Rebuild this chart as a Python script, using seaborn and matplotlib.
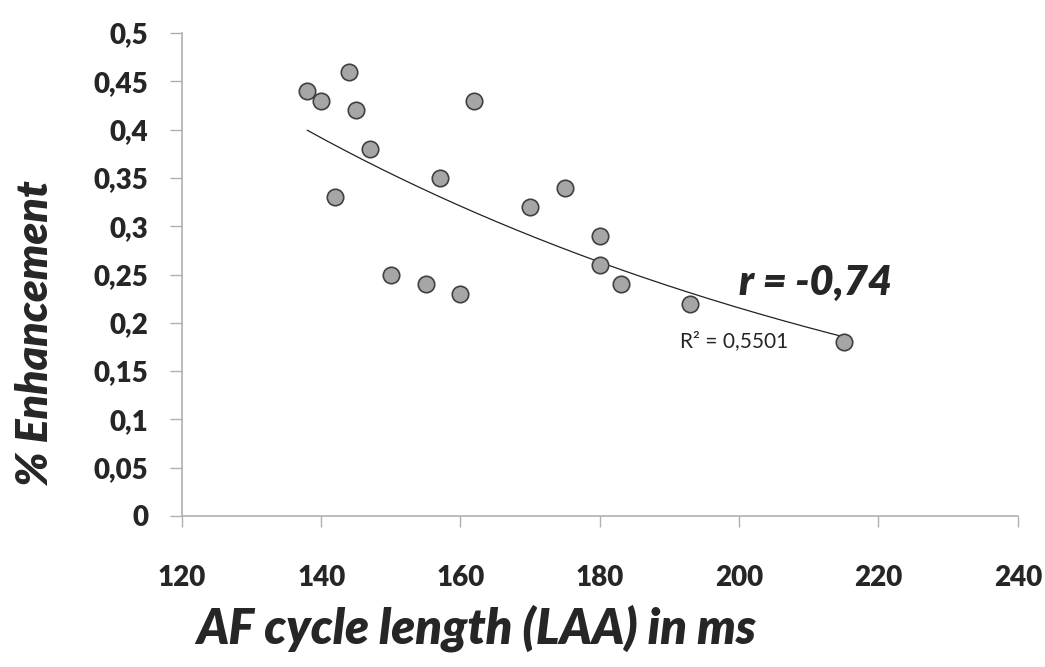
import numpy as np
import pandas as pd
import seaborn as sns
from matplotlib import pyplot as plt
from matplotlib.ticker import FuncFormatter

# values
cycle_length = [138, 140, 144, 145, 147, 142, 162, 157, 170, 150, 155, 160,
                175, 180, 180, 183, 193, 215]
enhancement = [0.44, 0.43, 0.46, 0.42, 0.38, 0.33, 0.43, 0.35, 0.32, 0.25, 0.24, 0.23,
               0.34, 0.29, 0.26, 0.24, 0.22, 0.18]
x_ticks = [120, 140, 160, 180, 200, 220, 240]
y_ticks = [0, 0.05, 0.1, 0.15, 0.2, 0.25, 0.3, 0.35, 0.4, 0.45, 0.5]

df = pd.DataFrame({'x': cycle_length, 'y': enhancement})

sns.set_theme(style='white')
plt.rcParams['font.family'] = ['Lato', 'DejaVu Sans']

fig = plt.figure(figsize=(10.45, 6.67), dpi=100)
ax = fig.add_axes([0.174, 0.2264, 0.8, 0.724])

# exponential trendline (Excel style)
b, log_a = np.polyfit(df['x'], np.log(df['y']), 1)
xs = np.linspace(df['x'].min(), df['x'].max(), 200)
ax.plot(xs, np.exp(log_a) * np.exp(b * xs), color='#222222', lw=0.9, zorder=2)

sns.scatterplot(data=df, x='x', y='y', ax=ax, s=140, color='#a6a6a6',
                edgecolor='#404040', linewidth=1.2, zorder=3)

ax.set_xlim(120, 240)
ax.set_ylim(0, 0.5)
ax.set_xticks(x_ticks)
ax.set_yticks(y_ticks)
fmt = FuncFormatter(lambda v, p: ('%g' % v).replace('.', ','))
ax.xaxis.set_major_formatter(fmt)
ax.yaxis.set_major_formatter(fmt)

for s in ['top', 'right']:
    ax.spines[s].set_visible(False)
for s in ['left', 'bottom']:
    ax.spines[s].set_color('#b0b0b0')
    ax.spines[s].set_linewidth(1.2)

ax.tick_params(axis='y', direction='out', length=9, width=1, color='#b0b0b0',
               left=True, pad=15, labelsize=20)
ax.tick_params(axis='x', direction='out', length=8, width=1, color='#b0b0b0',
               bottom=True, pad=27, labelsize=20)
for lab in ax.get_xticklabels() + ax.get_yticklabels():
    lab.set_fontweight('heavy')

ax.set_xlabel('')
ax.set_ylabel('')
fig.text(0.4555, 0.0585, 'AF cycle length (LAA) in ms', fontsize=35, style='italic',
         fontweight='heavy', ha='center', va='center')
fig.text(0.0335, 0.50, '% Enhancement', fontsize=32, style='italic',
         fontweight='heavy', ha='center', va='center', rotation=90)

ax.text(200, 0.241, 'r = -0,74', fontsize=30, style='italic', fontweight='heavy',
        va='center', ha='left', zorder=4)
ax.text(191.5, 0.181, 'R² = 0,5501', fontsize=15, va='center', ha='left', zorder=4,
        bbox=dict(facecolor='white', edgecolor='none', pad=2))

fig.savefig('out.png', dpi=100)
